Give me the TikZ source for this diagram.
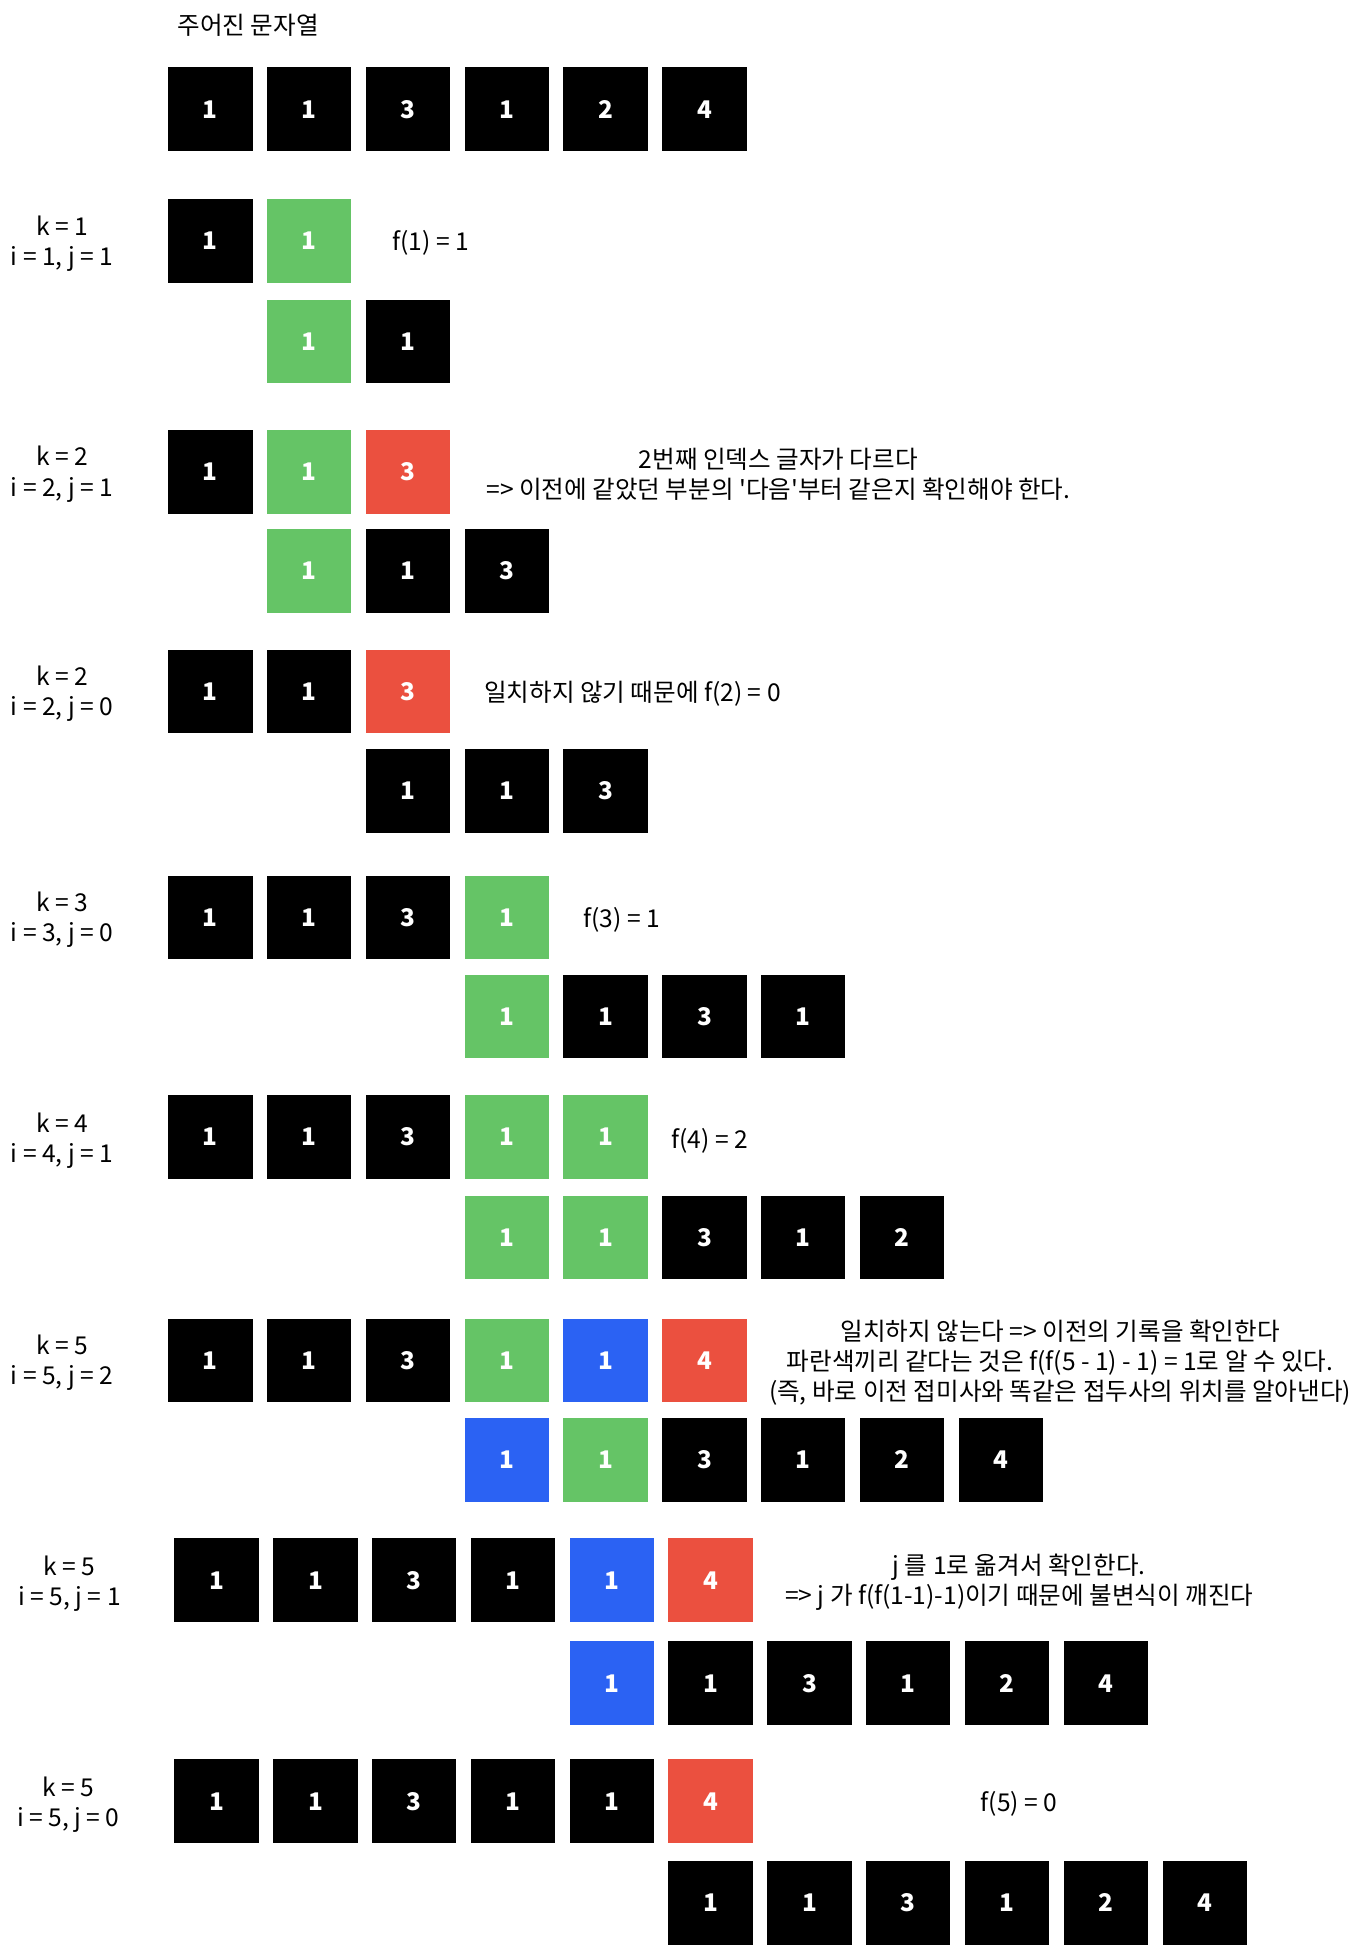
\documentclass[tikz,border=0pt]{standalone}
\usepackage{fontspec}
\newfontfamily\kr{Noto Sans CJK KR}
\definecolor{cellgreen}{HTML}{65C466}
\definecolor{cellred}{HTML}{EB503F}
\definecolor{cellblue}{HTML}{2B62F3}

\begin{document}
\begin{tikzpicture}[x=0.5pt,y=-0.5pt,
    cell/.style={minimum width=34pt,minimum height=33.7pt,inner sep=0pt,text=white,font=\kr\bfseries\fontsize{9.8}{12}\selectfont},
    lbl/.style={align=center,font=\kr\fontsize{9.9}{12.1}\selectfont}]
    \useasboundingbox (0,0) rectangle (1095.5,1568.5);
    % given string
    \node[lbl,anchor=west] (title) at (136,20) {주어진 문자열};
    \foreach \v/\c [count=\n from 0] in {1/black,1/black,3/black,1/black,2/black,4/black}
    \node[cell,fill=\c] (s0-\n) at ({169.5+79.6*\n},88) {\v};
    % k = 1
    \node[lbl] (k1) at (50,196) {k = 1\\i = 1, j = 1};
    \foreach \v/\c [count=\n from 0] in {1/black,1/cellgreen}
    \node[cell,fill=\c] (s1a-\n) at ({169.5+79.6*\n},194) {\v};
    \foreach \v/\c [count=\n from 1] in {1/cellgreen,1/black}
    \node[cell,fill=\c] (s1b-\n) at ({169.5+79.6*\n},275) {\v};
    \node[lbl,anchor=west] (f1) at (309,196) {f(1) = 1};
    % k = 2, j = 1
    \node[lbl] (k2) at (50,382) {k = 2\\i = 2, j = 1};
    \foreach \v/\c [count=\n from 0] in {1/black,1/cellgreen,3/cellred}
    \node[cell,fill=\c] (s2a-\n) at ({169.5+79.6*\n},380) {\v};
    \foreach \v/\c [count=\n from 1] in {1/cellgreen,1/black,3/black}
    \node[cell,fill=\c] (s2b-\n) at ({169.5+79.6*\n},460) {\v};
    \node[lbl] (t2) at (627,382) {2번째 인덱스 글자가 다르다\\=> 이전에 같았던 부분의 '다음'부터 같은지 확인해야 한다.};
    % k = 2, j = 0
    \node[lbl] (k2b) at (50,559) {k = 2\\i = 2, j = 0};
    \foreach \v/\c [count=\n from 0] in {1/black,1/black,3/cellred}
    \node[cell,fill=\c] (s3a-\n) at ({169.5+79.6*\n},557) {\v};
    \foreach \v/\c [count=\n from 2] in {1/black,1/black,3/black}
    \node[cell,fill=\c] (s3b-\n) at ({169.5+79.6*\n},637) {\v};
    \node[lbl,anchor=west] (f2) at (383,559) {일치하지 않기 때문에 f(2) = 0};
    % k = 3
    \node[lbl] (k3) at (50,741) {k = 3\\i = 3, j = 0};
    \foreach \v/\c [count=\n from 0] in {1/black,1/black,3/black,1/cellgreen}
    \node[cell,fill=\c] (s4a-\n) at ({169.5+79.6*\n},739) {\v};
    \foreach \v/\c [count=\n from 3] in {1/cellgreen,1/black,3/black,1/black}
    \node[cell,fill=\c] (s4b-\n) at ({169.5+79.6*\n},819) {\v};
    \node[lbl,anchor=west] (f3) at (463,741) {f(3) = 1};
    % k = 4
    \node[lbl] (k4) at (50,919) {k = 4\\i = 4, j = 1};
    \foreach \v/\c [count=\n from 0] in {1/black,1/black,3/black,1/cellgreen,1/cellgreen}
    \node[cell,fill=\c] (s5a-\n) at ({169.5+79.6*\n},916) {\v};
    \foreach \v/\c [count=\n from 3] in {1/cellgreen,1/cellgreen,3/black,1/black,2/black}
    \node[cell,fill=\c] (s5b-\n) at ({169.5+79.6*\n},997) {\v};
    \node[lbl,anchor=west] (f4) at (534,919) {f(4) = 2};
    % k = 5, j = 2
    \node[lbl] (k5) at (50,1098) {k = 5\\i = 5, j = 2};
    \foreach \v/\c [count=\n from 0] in {1/black,1/black,3/black,1/cellgreen,1/cellblue,4/cellred}
    \node[cell,fill=\c] (s6a-\n) at ({169.5+79.6*\n},1096) {\v};
    \foreach \v/\c [count=\n from 3] in {1/cellblue,1/cellgreen,3/black,1/black,2/black,4/black}
    \node[cell,fill=\c] (s6b-\n) at ({169.5+79.6*\n},1176) {\v};
    \node[lbl] (t6) at (854,1098) {일치하지 않는다 => 이전의 기록을 확인한다\\파란색끼리 같다는 것은 f(f(5 - 1) - 1) = 1로 알 수 있다.\\(즉, 바로 이전 접미사와 똑같은 접두사의 위치를 알아낸다)};
    % k = 5, j = 1
    \node[lbl] (k5b) at (56,1276) {k = 5\\i = 5, j = 1};
    \foreach \v/\c [count=\n from 0] in {1/black,1/black,3/black,1/black,1/cellblue,4/cellred}
    \node[cell,fill=\c] (s7a-\n) at ({174.5+79.6*\n},1273) {\v};
    \foreach \v/\c [count=\n from 4] in {1/cellblue,1/black,3/black,1/black,2/black,4/black}
    \node[cell,fill=\c] (s7b-\n) at ({174.5+79.6*\n},1356) {\v};
    \node[lbl] (t7) at (821,1275) {j 를 1로 옮겨서 확인한다.\\=> j 가 f(f(1-1)-1)이기 때문에 불변식이 깨진다};
    % k = 5, j = 0
    \node[lbl] (k5c) at (55,1454) {k = 5\\i = 5, j = 0};
    \foreach \v/\c [count=\n from 0] in {1/black,1/black,3/black,1/black,1/black,4/cellred}
    \node[cell,fill=\c] (s8a-\n) at ({174.5+79.6*\n},1451) {\v};
    \foreach \v/\c [count=\n from 5] in {1/black,1/black,3/black,1/black,2/black,4/black}
    \node[cell,fill=\c] (s8b-\n) at ({174.5+79.6*\n},1533) {\v};
    \node[lbl] (f5) at (821,1453) {f(5) = 0};
\end{tikzpicture}
\end{document}
